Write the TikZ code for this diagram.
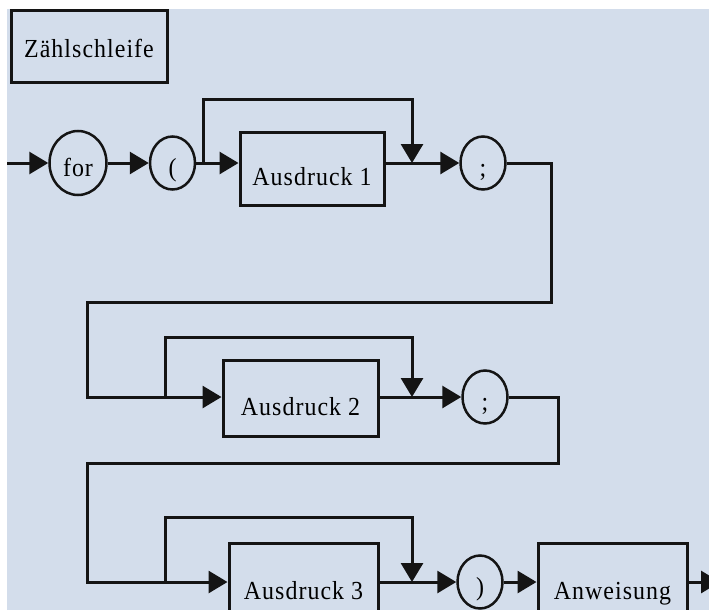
\documentclass[tikz,border=0pt]{standalone}
\usepackage{fontspec}
\setmainfont{Liberation Serif}[LetterSpace=4, FakeStretch=0.92]
\usepackage{tikz}
\usepackage{xcolor}
\usetikzlibrary{arrows.meta,shapes.geometric}

\definecolor{hintergrund}{HTML}{D3DDEB}
\definecolor{strich}{HTML}{141414}

\tikzset{
  linie/.style={line width=3pt, draw=strich},
  pfeil/.style={linie, -{Triangle[length=19pt,width=22pt]}},
  kreis/.style={ellipse, draw=strich, line width=2.5pt, inner sep=0pt,
    minimum width=45pt, minimum height=53pt, text height=26pt, text depth=0pt,
    font=\fontsize{26pt}{30pt}\selectfont},
  kasten/.style={rectangle, draw=strich, line width=3pt, inner sep=0pt,
    text height=34pt, text depth=0pt, font=\fontsize{26pt}{30pt}\selectfont}
}

\begin{document}
\begin{tikzpicture}[x=1pt,y=-1pt]

\useasboundingbox (0,0) rectangle (709,610);
\clip (0,0) rectangle (709,610);
\fill[hintergrund] (7,9) rectangle (709,610);

\node[kasten, text height=23pt, minimum width=156pt, minimum height=71pt] (titel) at (89,46.5) {Zählschleife};

\node[kreis, minimum width=57pt, minimum height=64pt] (for) at (78,163) {for};
\node[kreis] (auf) at (172.5,163) {(};
\node[kasten, minimum width=144pt, minimum height=73pt] (ausdruck1) at (312,168.5) {Ausdruck 1};
\node[kreis] (semi1) at (483,163) {;};

\node[kasten, minimum width=155pt, minimum height=76pt] (ausdruck2) at (300.5,398) {Ausdruck 2};
\node[kreis] (semi2) at (485,397) {;};

\node[kasten, minimum width=149pt, minimum height=78pt] (ausdruck3) at (303.5,582) {Ausdruck 3};
\node[kreis] (zu) at (480,582) {)};
\node[kasten, minimum width=149pt, minimum height=78pt] (anweisung) at (612.5,582) {Anweisung};

\coordinate (start) at (7,163);
\coordinate (ab1) at (203,163);
\coordinate (ein1) at (412,163);
\coordinate (kehre1) at (551,302);
\coordinate (links2) at (87,397);
\coordinate (ab2) at (165,397);
\coordinate (ein2) at (412,397);
\coordinate (kehre2) at (558,463);
\coordinate (links3) at (87,582);
\coordinate (ab3) at (165,582);
\coordinate (ein3) at (412,582);
\coordinate (ende) at (720,582);

% erste Zeile
\draw[pfeil] (start) -- (for);
\draw[pfeil] (for) -- (auf);
\draw[pfeil] (auf.east) -- (auf.east -| ausdruck1.west);
\draw[pfeil] (ab1) -- ++(0,-64) -| (ein1);
\draw[pfeil] (ausdruck1.east |- semi1) -- (semi1);
\draw[pfeil] (semi1.east) -| (kehre1) -| (links2) -- (links2 -| ausdruck2.west);

% zweite Zeile
\draw[pfeil] (ab2) -- ++(0,-60) -| (ein2);
\draw[pfeil] (ausdruck2.east |- semi2) -- (semi2);
\draw[pfeil] (semi2.east) -| (kehre2) -| (links3) -- (links3 -| ausdruck3.west);

% dritte Zeile
\draw[pfeil] (ab3) -- ++(0,-65) -| (ein3);
\draw[pfeil] (ausdruck3.east |- zu) -- (zu);
\draw[pfeil] (zu) -- (anweisung);
\draw[pfeil] (anweisung) -- (ende);

\end{tikzpicture}
\end{document}
